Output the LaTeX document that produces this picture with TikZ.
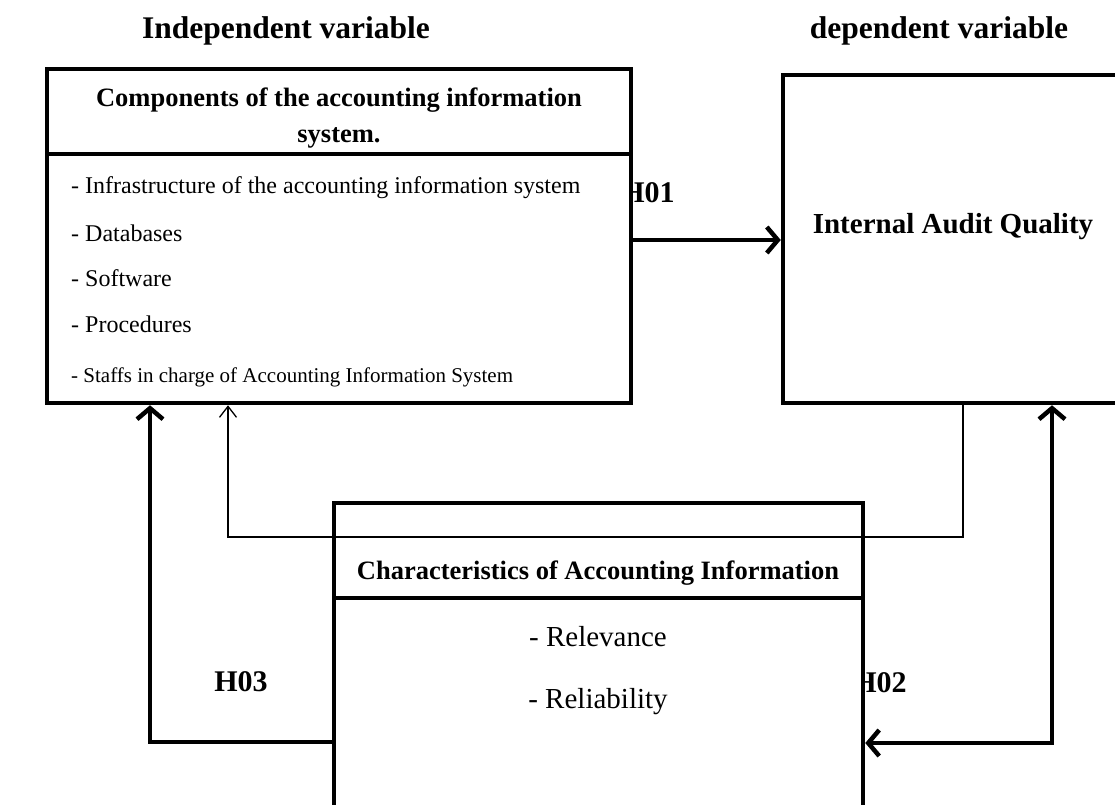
\documentclass[tikz,border=0pt]{standalone}
\usepackage{fontspec}
\setmainfont{Liberation Serif}
\usetikzlibrary{arrows.meta,positioning}

\begin{document}
\begin{tikzpicture}[
      x=1pt, y=-1pt,
      box/.style={draw, line width=4.5pt, fill=white, inner sep=0pt},
      title/.style={font=\fontsize{31.5}{36}\selectfont\bfseries},
      head/.style={font=\fontsize{26.5}{36}\selectfont\bfseries, align=center, inner sep=0pt},
      item/.style={anchor=west, inner sep=0pt, font=\fontsize{24}{28}\selectfont},
      hyp/.style={font=\fontsize{30}{34}\selectfont\bfseries, inner sep=0pt},
      barb/.tip={Straight Barb[length=11pt,width=26pt]},
      thickarrow/.style={line width=4.5pt, -barb},
      thinarrow/.style={line width=1.3pt, -{Straight Barb[length=11pt,width=17pt]}}
    ]
    \useasboundingbox (0,0) rectangle (1115,804);

    % titles
    \node[title] (indep) at (286,31) {Independent variable};
    \node[title] (dep) at (939,31) {dependent variable};

    % hypothesis labels (partly under the boxes)
    \node[hyp] (h01) at (648,193) {H01};
    \node[hyp] (h02) at (880,683) {H02};
    \node[hyp] (h03) at (241,682) {H03};

    % boxes
    \node[box, minimum width=584pt, minimum height=334pt] (ais) at (339,236) {};
    \node[box, minimum width=340pt, minimum height=328pt] (iaq) at (953,239) {};
    \node[box, minimum width=529pt, minimum height=309pt] (chars) at (598.5,657.5) {};

    % independent variable box
    \node[head] (aishead) at (339,118) {Components of the accounting information\\system.};
    \draw[line width=4pt] (47,154) -- (631,154);
    \node[item] (infra) at (71,188) {- Infrastructure of the accounting information system};
    \node[item] (db) at (71,233) {- Databases};
    \node[item] (soft) at (71,278) {- Software};
    \node[item] (proc) at (71,324) {- Procedures};
    \node[item, font=\fontsize{21}{25}\selectfont] (staff) at (71,377) {- Staffs in charge of Accounting Information System};

    % dependent variable box
    \node[font=\fontsize{29}{34}\selectfont\bfseries] (iaqtext) at (953,227) {Internal Audit Quality};

    % moderating box
    \node[head] (charshead) at (598,573) {Characteristics of Accounting Information};
    \draw[line width=4pt] (334,598) -- (863,598);
    \node[font=\fontsize{29}{34}\selectfont] (rel) at (598,637) {- Relevance};
    \node[font=\fontsize{29}{34}\selectfont] (reli) at (598,702) {- Reliability};

    % connectors
    \coordinate (h3turn) at (150,742);
    \coordinate (h2turn) at (1052,743);
    \coordinate (fbturn) at (963,537);
    \coordinate (fbcorner) at (228,537);
    \draw[thickarrow] ([yshift=-4pt]ais.east) -- ([yshift=-4pt]ais.east -| iaq.west);
    \draw[thickarrow] (chars.west |- h3turn) -- (h3turn) -- (h3turn |- ais.south);
    \draw[thickarrow, barb-barb] (iaq.south -| h2turn) -- (h2turn) -- (h2turn -| chars.east);
    \draw[thinarrow] (iaq.south -| fbturn) |- (fbcorner) -- (fbcorner |- ais.south);
  \end{tikzpicture}
\end{document}
